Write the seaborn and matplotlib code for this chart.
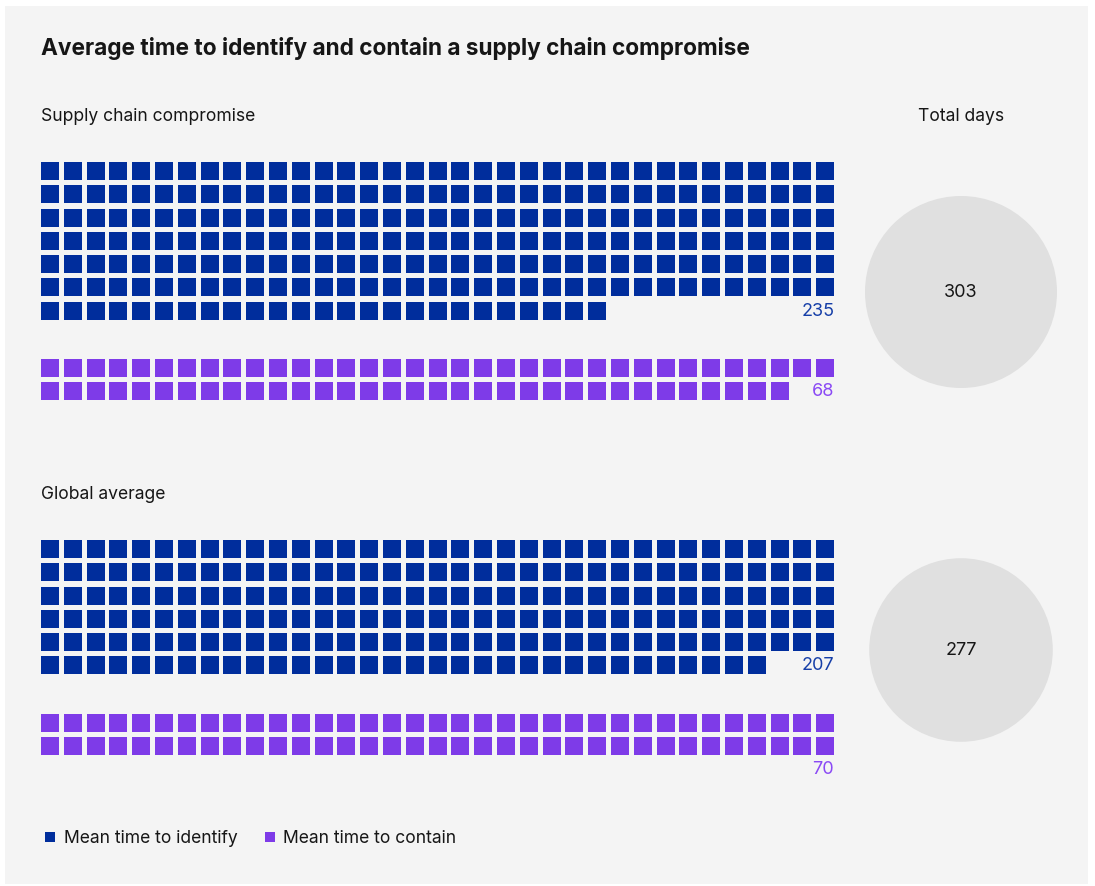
import numpy as np
import pandas as pd
import matplotlib
matplotlib.use("Agg")
import matplotlib.pyplot as plt
from matplotlib.patches import Rectangle, Circle
from matplotlib.lines import Line2D
import seaborn as sns

# ---- data ----
groups = ["Supply chain compromise", "Global average"]
identify_days = [235, 207]
contain_days = [68, 70]
total_days = [303, 277]
series_labels = ["Mean time to identify", "Mean time to contain"]
title = "Average time to identify and contain a supply chain compromise"
total_label = "Total days"

# ---- style ----
BLUE = "#002d9c"
PURPLE = "#7e3be8"
BLUE_TXT = "#163fa8"
PURPLE_TXT = "#8a49f5"
BG = "#f4f4f4"
CIRCLE = "#e0e0e0"
TXT = "#161616"

sns.set_theme(style="white")
plt.rcParams["font.family"] = ["Inter", "DejaVu Sans"]

W, H = 1095, 886
fig = plt.figure(figsize=(W / 100, H / 100), dpi=100, facecolor="white")
ax = fig.add_axes([0, 0, 1, 1])
ax.set_facecolor("white")

ax.add_patch(Rectangle((5, 6), 1083, 878, facecolor=BG, edgecolor="none", zorder=0))

NCOL = 35
X0 = 41
SQ = 18
PX = 22.8
PY = 23.25
ident_top = [162, 540]
contain_top = [359, 714]
circle_cy = [292, 650]
sub_y = [116.5, 494.5]
circle_cx = 961
R_MAX = 96

rows = []
for g, (idv, ctv, t1, t2) in enumerate(zip(identify_days, contain_days, ident_top, contain_top)):
    for i in range(idv):
        rows.append(dict(x=X0 + SQ / 2 + (i % NCOL) * PX, y=t1 + SQ / 2 + (i // NCOL) * PY,
                         series=series_labels[0]))
    for i in range(ctv):
        rows.append(dict(x=X0 + SQ / 2 + (i % NCOL) * PX, y=t2 + SQ / 2 + (i // NCOL) * PY,
                         series=series_labels[1]))
df = pd.DataFrame(rows)

side_pt = SQ * 72 / 100
sns.scatterplot(data=df, x="x", y="y", hue="series", palette=[BLUE, PURPLE],
                hue_order=series_labels, marker="s", s=side_pt ** 2, linewidth=0,
                legend=False, ax=ax, zorder=3)

FS = 12.6
# value labels
for g in range(len(groups)):
    ax.text(X0 + (NCOL - 1) * PX + SQ, ident_top[g] + SQ / 2 + 0.5 + (identify_days[g] // NCOL) * PY,
            str(identify_days[g]), ha="right", va="center", fontsize=13, color=BLUE_TXT)
    ax.text(X0 + (NCOL - 1) * PX + SQ, contain_top[g] + SQ / 2 + 0.5 + (contain_days[g] // NCOL) * PY,
            str(contain_days[g]), ha="right", va="center", fontsize=13, color=PURPLE_TXT)
    ax.text(X0, sub_y[g], groups[g], ha="left", va="center", fontsize=FS, color=TXT)
    r = R_MAX * np.sqrt(total_days[g] / max(total_days))
    ax.add_patch(Circle((circle_cx, circle_cy[g]), r, facecolor=CIRCLE, edgecolor="none", zorder=2))
    ax.text(circle_cx, circle_cy[g] + 0.5, str(total_days[g]), ha="center", va="center",
            fontsize=13, color=TXT, zorder=4)

ax.text(circle_cx, sub_y[0], total_label, ha="center", va="center", fontsize=FS, color=TXT)
ax.text(X0, 48.5, title, ha="left", va="center", fontsize=16.3, fontweight="bold", color=TXT)

handles = [Line2D([0], [0], marker="s", linestyle="none", markersize=10 * 0.72,
                  markerfacecolor=c, markeredgewidth=0) for c in [BLUE, PURPLE]]
leg = ax.legend(handles, series_labels, loc="center left", bbox_to_anchor=(42, 838.5),
                bbox_transform=ax.transData, ncol=2, frameon=False, fontsize=FS,
                handlelength=0.9, handletextpad=0.33, columnspacing=1.4,
                borderpad=0, borderaxespad=0)
for t in leg.get_texts():
    t.set_color(TXT)

ax.set_xlim(0, W)
ax.set_ylim(H, 0)
ax.set_aspect("auto")
ax.axis("off")

fig.savefig("out.png", dpi=100, facecolor="white")
